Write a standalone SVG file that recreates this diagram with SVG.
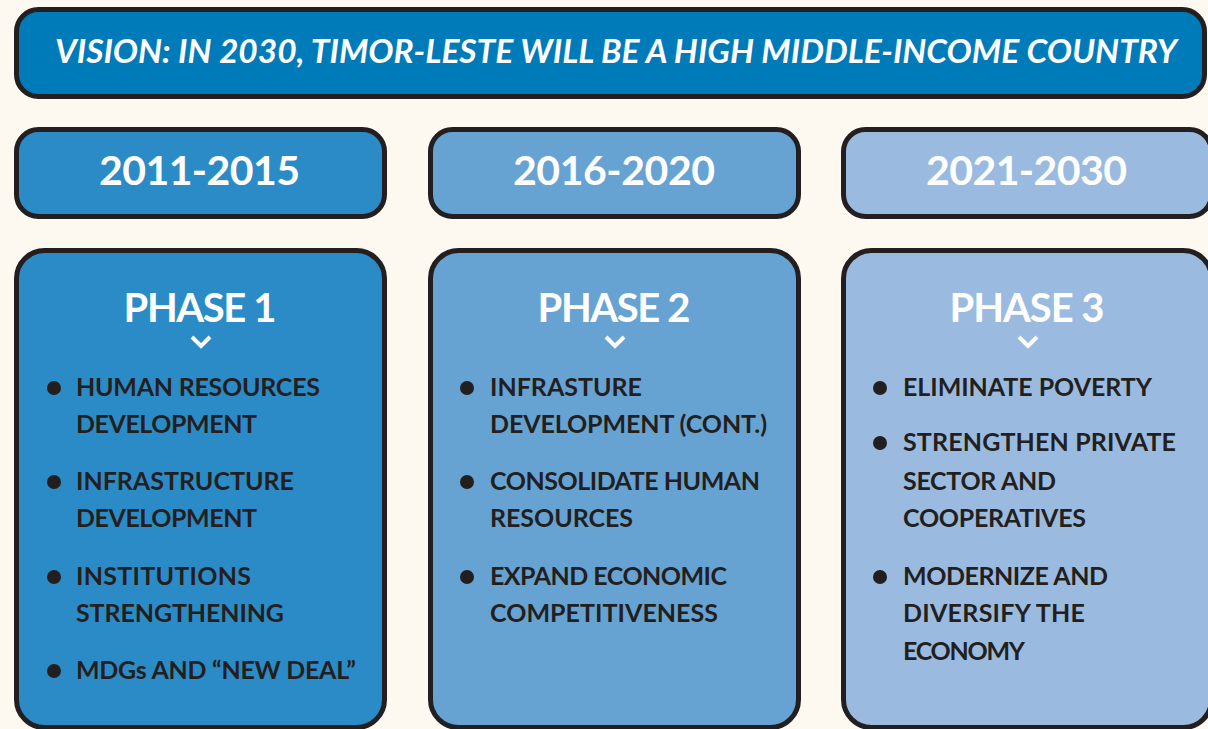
<svg xmlns="http://www.w3.org/2000/svg" width="1208" height="729" viewBox="0 0 1208 729">
<style>
.box{stroke:#231F20;stroke-width:5}
.vis{font-family:"Lato","Open Sans",sans-serif;font-weight:bold;font-style:italic;font-size:33px;fill:#fff;text-anchor:middle}
.yr{font-family:"Lato","Open Sans",sans-serif;font-weight:bold;font-size:41px;fill:#fff;text-anchor:middle;letter-spacing:1px}
.ph{font-family:"Lato","Open Sans",sans-serif;font-weight:bold;font-size:40px;fill:#fff;text-anchor:middle}
.it{font-family:"Lato","Open Sans",sans-serif;font-weight:bold;font-size:25px;fill:#231F20}
.chev{fill:none;stroke:#fff;stroke-width:4}
.dot{fill:#231F20}
</style>
<rect width="1208" height="729" fill="#FDF8F0"/>
<g id="vision">
<rect class="box" x="16.5" y="9.5" width="1188" height="87" rx="22" fill="#007BBA"/>
<text class="vis" x="616" y="63" textLength="1122" lengthAdjust="spacingAndGlyphs">VISION: IN 2030, TIMOR-LESTE WILL BE A HIGH MIDDLE-INCOME COUNTRY</text>
</g>
<g id="year1">
<rect class="box" x="16.5" y="129.5" width="368" height="87" rx="22" fill="#2B8BC6"/>
<text class="yr" x="200" y="185" textLength="202">2011-2015</text>
</g>
<g id="year2">
<rect class="box" x="430.5" y="129.5" width="368" height="87" rx="22" fill="#66A3D2"/>
<text class="yr" x="614.5" y="185" textLength="203">2016-2020</text>
</g>
<g id="year3">
<rect class="box" x="843.5" y="129.5" width="368" height="87" rx="22" fill="#9ABBDF"/>
<text class="yr" x="1027" y="185" textLength="202">2021-2030</text>
</g>
<g id="phase1">
<rect class="box" x="16.5" y="250.5" width="368" height="477" rx="28" fill="#2B8BC6"/>
<text class="ph" x="200" y="322" textLength="153">PHASE 1</text>
<polyline class="chev" points="192,337 201,346 210,337"/>
<circle class="dot" cx="54" cy="388" r="7"/>
<text class="it" x="76" y="396" textLength="244">HUMAN RESOURCES</text>
<text class="it" x="76" y="433" textLength="181">DEVELOPMENT</text>
<circle class="dot" cx="54" cy="482" r="7"/>
<text class="it" x="76" y="490" textLength="218">INFRASTRUCTURE</text>
<text class="it" x="76" y="527" textLength="181">DEVELOPMENT</text>
<circle class="dot" cx="54" cy="577" r="7"/>
<text class="it" x="76" y="585" textLength="175">INSTITUTIONS</text>
<text class="it" x="76" y="622" textLength="208">STRENGTHENING</text>
<circle class="dot" cx="54" cy="671" r="7"/>
<text class="it" x="76" y="679" textLength="280">MDGs AND “NEW DEAL”</text>
</g>
<g id="phase2">
<rect class="box" x="430.5" y="250.5" width="368" height="477" rx="28" fill="#66A3D2"/>
<text class="ph" x="614" y="322" textLength="153">PHASE 2</text>
<polyline class="chev" points="606,337 615,346 624,337"/>
<circle class="dot" cx="467" cy="388" r="7"/>
<text class="it" x="490" y="396" textLength="152">INFRASTURE</text>
<text class="it" x="490" y="433" textLength="277">DEVELOPMENT (CONT.)</text>
<circle class="dot" cx="467" cy="482" r="7"/>
<text class="it" x="490" y="490" textLength="270">CONSOLIDATE HUMAN</text>
<text class="it" x="490" y="527" textLength="143">RESOURCES</text>
<circle class="dot" cx="467" cy="577" r="7"/>
<text class="it" x="490" y="585" textLength="237">EXPAND ECONOMIC</text>
<text class="it" x="490" y="622" textLength="228">COMPETITIVENESS</text>
</g>
<g id="phase3">
<rect class="box" x="843.5" y="250.5" width="368" height="477" rx="28" fill="#9ABBDF"/>
<text class="ph" x="1027" y="322" textLength="155">PHASE 3</text>
<polyline class="chev" points="1019,337 1028,346 1037,337"/>
<circle class="dot" cx="880" cy="388" r="7"/>
<text class="it" x="903" y="396" textLength="249">ELIMINATE POVERTY</text>
<circle class="dot" cx="880" cy="443" r="7"/>
<text class="it" x="903" y="451" textLength="273">STRENGTHEN PRIVATE</text>
<text class="it" x="903" y="490" textLength="153">SECTOR AND</text>
<text class="it" x="903" y="527" textLength="183">COOPERATIVES</text>
<circle class="dot" cx="880" cy="577" r="7"/>
<text class="it" x="903" y="585" textLength="205">MODERNIZE AND</text>
<text class="it" x="903" y="622" textLength="182">DIVERSIFY THE</text>
<text class="it" x="903" y="660" textLength="122">ECONOMY</text>
</g>
<g id="connectors"/>
</svg>
